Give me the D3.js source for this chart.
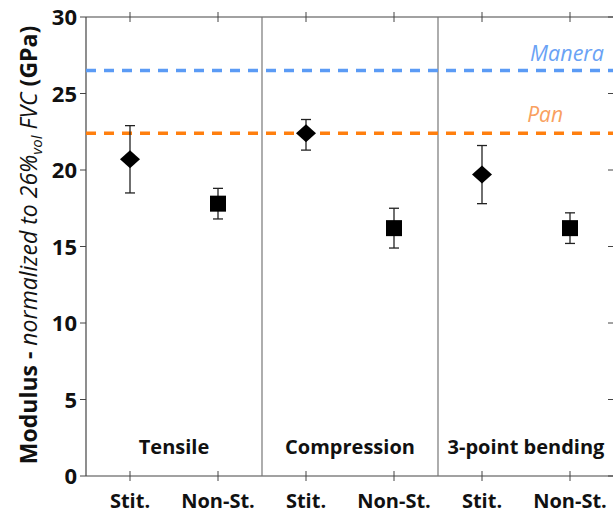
<!DOCTYPE html>
<html>
<head>
<meta charset="UTF-8">
<script src="https://cdn.jsdelivr.net/npm/d3@7"></script>
<style>
body{ margin:0; background:#fff; }
text{ font-family: "Open Sans", sans-serif; }
</style>
</head>
<body>
<script>
// data
var categories = ["Stit.", "Non-St.", "Stit.", "Non-St.", "Stit.", "Non-St."]
var shapes = ["diamond", "square", "diamond", "square", "diamond", "square"]
var values = [20.7, 17.8, 22.4, 16.2, 19.7, 16.2]
var errLow = [18.5, 16.8, 21.3, 14.9, 17.8, 15.2]
var errHigh = [22.9, 18.8, 23.3, 17.5, 21.6, 17.2]
var groups = ["Tensile", "Compression", "3-point bending"]
var refNames = ["Manera", "Pan"]
var refValues = [26.5, 22.4]
var refColors = ["#5b9bf5", "#ff7f0e"]
var refTextColors = ["#6aa2f5", "#f9a060"]
var yTicks = [0, 5, 10, 15, 20, 25, 30]

var width = 613, height = 515
var pLeft = 86, pRight = 614, pTop = 17, pBottom = 476

var svg = d3.select("body").append("svg")
  .attr("width", width).attr("height", height)

var x = d3.scaleLinear().domain([-0.5, 5.5]).range([pLeft, pRight])
var y = d3.scaleLinear().domain([0, 30]).range([pBottom, pTop])

// frame
svg.append("line").attr("x1", pLeft).attr("x2", pRight).attr("y1", pTop).attr("y2", pTop)
  .attr("stroke", "#444").attr("stroke-width", 1.2)
svg.append("line").attr("x1", pLeft).attr("x2", pRight).attr("y1", pBottom).attr("y2", pBottom)
  .attr("stroke", "#444").attr("stroke-width", 1.2)
svg.append("line").attr("x1", pLeft).attr("x2", pLeft).attr("y1", pTop).attr("y2", pBottom)
  .attr("stroke", "#444").attr("stroke-width", 1.2)

// group separators
svg.selectAll(".sep").data([1.5, 3.5]).enter().append("line")
  .attr("x1", d => x(d)).attr("x2", d => x(d))
  .attr("y1", pTop).attr("y2", pBottom)
  .attr("stroke", "#777").attr("stroke-width", 1.2)

// y axis ticks + labels
svg.selectAll(".yt").data(yTicks).enter().append("line")
  .attr("x1", pLeft - 6).attr("x2", pLeft)
  .attr("y1", d => y(d)).attr("y2", d => y(d))
  .attr("stroke", "#444")
svg.selectAll(".ytr").data(yTicks).enter().append("line")
  .attr("x1", pRight - 6).attr("x2", pRight)
  .attr("y1", d => y(d)).attr("y2", d => y(d))
  .attr("stroke", "#444")
svg.selectAll(".yl").data(yTicks).enter().append("text")
  .attr("x", 77).attr("y", d => y(d) + 8)
  .attr("text-anchor", "end")
  .attr("font-size", 22).attr("font-weight", "bold")
  .attr("fill", "#111")
  .text(d => d)

// x ticks top and bottom
svg.selectAll(".xtb").data(categories).enter().append("line")
  .attr("x1", (d, i) => x(i)).attr("x2", (d, i) => x(i))
  .attr("y1", pBottom - 5).attr("y2", pBottom + 5)
  .attr("stroke", "#444")
svg.selectAll(".xtt").data(categories).enter().append("line")
  .attr("x1", (d, i) => x(i)).attr("x2", (d, i) => x(i))
  .attr("y1", pTop - 5).attr("y2", pTop + 5)
  .attr("stroke", "#444")
svg.selectAll(".xl").data(categories).enter().append("text")
  .attr("x", (d, i) => x(i)).attr("y", 508)
  .attr("text-anchor", "middle")
  .attr("font-size", 20).attr("font-weight", "bold")
  .attr("fill", "#111")
  .text(d => d)

// group labels
svg.selectAll(".gl").data(groups).enter().append("text")
  .attr("x", (d, i) => x(i * 2 + 0.5)).attr("y", 454)
  .attr("text-anchor", "middle")
  .attr("font-size", 20).attr("font-weight", "bold")
  .attr("fill", "#111")
  .text(d => d)

// reference lines
svg.selectAll(".ref").data(refValues).enter().append("line")
  .attr("x1", pLeft).attr("x2", pRight)
  .attr("y1", d => y(d)).attr("y2", d => y(d))
  .attr("stroke", (d, i) => refColors[i])
  .attr("stroke-width", 3.5)
  .attr("stroke-dasharray", "10,8")
svg.append("text").attr("x", 604).attr("y", y(refValues[0]) - 10)
  .attr("text-anchor", "end").attr("font-size", 21.5).attr("font-style", "italic")
  .attr("fill", refTextColors[0]).text(refNames[0])
svg.append("text").attr("x", 563).attr("y", y(refValues[1]) - 11)
  .attr("text-anchor", "end").attr("font-size", 21).attr("font-style", "italic")
  .attr("fill", refTextColors[1]).text(refNames[1])

// error bars
var eb = svg.selectAll(".eb").data(values).enter().append("g")
eb.append("line")
  .attr("x1", (d, i) => x(i)).attr("x2", (d, i) => x(i))
  .attr("y1", (d, i) => y(errLow[i])).attr("y2", (d, i) => y(errHigh[i]))
  .attr("stroke", "#222").attr("stroke-width", 1.3)
eb.append("line")
  .attr("x1", (d, i) => x(i) - 5).attr("x2", (d, i) => x(i) + 5)
  .attr("y1", (d, i) => y(errLow[i])).attr("y2", (d, i) => y(errLow[i]))
  .attr("stroke", "#222").attr("stroke-width", 1.3)
eb.append("line")
  .attr("x1", (d, i) => x(i) - 5).attr("x2", (d, i) => x(i) + 5)
  .attr("y1", (d, i) => y(errHigh[i])).attr("y2", (d, i) => y(errHigh[i]))
  .attr("stroke", "#222").attr("stroke-width", 1.3)

// markers
svg.selectAll(".mk").data(values).enter().append("path")
  .attr("transform", (d, i) => "translate(" + x(i) + "," + y(d) + ")")
  .attr("d", (d, i) => shapes[i] == "diamond"
    ? "M0,-9L10,0L0,9L-10,0Z"
    : "M-8,-8H8V8H-8Z")
  .attr("fill", "#000")

// y axis title with mixed styles
var yt = svg.append("text")
  .attr("transform", "translate(37,245) rotate(-90)")
  .attr("text-anchor", "middle")
  .attr("font-size", 23)
  .attr("fill", "#111")
yt.append("tspan").attr("font-weight", "bold").text("Modulus - ")
yt.append("tspan").attr("font-style", "italic").text("normalized to 26%")
yt.append("tspan").attr("font-style", "italic").attr("font-size", 15).attr("dy", 5).text("vol")
yt.append("tspan").attr("font-style", "italic").attr("dy", -5).text(" FVC ")
yt.append("tspan").attr("font-weight", "bold").text("(GPa)")
</script>
</body>
</html>
